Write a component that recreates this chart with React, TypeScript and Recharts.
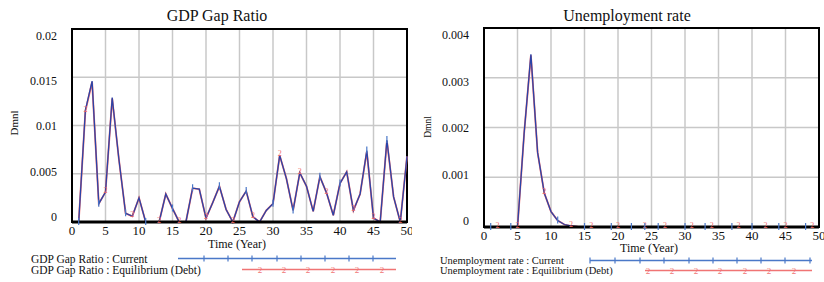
import React from 'react';
import { LineChart, Line, XAxis, YAxis, CartesianGrid, ReferenceArea } from 'recharts';

const years = [
  0, 1, 2, 3, 4, 5, 6, 7, 8, 9, 10, 11, 12, 13, 14, 15, 16, 17, 18, 19, 20, 21, 22, 23, 24, 25,
  26, 27, 28, 29, 30, 31, 32, 33, 34, 35, 36, 37, 38, 39, 40, 41, 42, 43, 44, 45, 46, 47, 48, 49, 50,
];

const gdpCurrent = [
  0, 0, 0.0116, 0.0146, 0.0019, 0.0031, 0.0129, 0.0065, 0.0009, 0.0006, 0.0025, 0, 0, 0, 0.0029,
  0.0014, 0, 0, 0.0035, 0.0034, 0.0004, 0.002, 0.0037, 0.0013, 0, 0.0021, 0.0032, 0.00055, 0,
  0.0012, 0.0019, 0.0069, 0.0045, 0.0012, 0.0051, 0.0037, 0.0011, 0.0047, 0.003, 0.0007, 0.004,
  0.0052, 0.0012, 0.0029, 0.0074, 0.0004, 0, 0.0085, 0.0026, 0, 0.0068,
];
const gdpEquilibrium = [
  0, 0, 0.0115, 0.0145, 0.0019, 0.0031, 0.0128, 0.0065, 0.0009, 0.0006, 0.0025, 0, 0, 0, 0.0029,
  0.0014, 0, 0, 0.0035, 0.0034, 0.0004, 0.002, 0.0037, 0.0013, 0, 0.0021, 0.0032, 0.00055, 0,
  0.0012, 0.0019, 0.0069, 0.0045, 0.0012, 0.0051, 0.0037, 0.0011, 0.0047, 0.003, 0.0007, 0.004,
  0.0052, 0.0012, 0.0029, 0.0073, 0.0004, 0, 0.0084, 0.0026, 0, 0.0068,
];

const unempCurrent = [
  0, 0, 0, 0, 0, 0, 0.0019, 0.00347, 0.0015, 0.00068, 0.00031, 0.00013, 0.00005, 0.00002, 0.000005,
  0, 0, 0, 0, 0, 0, 0, 0, 0, 0, 0, 0, 0, 0, 0, 0, 0, 0, 0, 0, 0, 0, 0, 0, 0, 0, 0, 0, 0, 0, 0, 0, 0,
  0, 0, 0,
];
const unempEquilibrium = [
  0, 0, 0, 0, 0, 0, 0.0019, 0.00345, 0.0015, 0.00068, 0.00031, 0.00013, 0.00005, 0.00002, 0.000005,
  0, 0, 0, 0, 0, 0, 0, 0, 0, 0, 0, 0, 0, 0, 0, 0, 0, 0, 0, 0, 0, 0, 0, 0, 0, 0, 0, 0, 0, 0, 0, 0, 0,
  0, 0, 0,
];

const xTicks = [0, 5, 10, 15, 20, 25, 30, 35, 40, 45, 50];
const gdpTicks = [0, 0.005, 0.01, 0.015, 0.02];
const unempTicks = [0, 0.001, 0.002, 0.003, 0.004];

const gdpCurMarks = [1, 4, 8, 11, 15, 18, 22, 26, 30, 33, 37, 40, 44, 47];
const gdpEqMarks = [2, 5, 9, 13, 16, 20, 24, 27, 31, 34, 38, 42, 45, 49];
const unCurMarks = [1, 4, 11, 15, 19, 22, 24, 26, 30, 33, 37, 40, 44, 48];
const unEqMarks = [2, 5, 9, 13, 16, 20, 24, 27, 31, 34, 38, 42, 45, 49];

const gdpLegend = ['GDP Gap Ratio : Current', 'GDP Gap Ratio : Equilibrium (Debt)'];
const unLegend = ['Unemployment rate : Current', 'Unemployment rate : Equilibrium (Debt)'];

const gdpData = years.map((t, i) => ({ t, cur: gdpCurrent[i], eq: gdpEquilibrium[i] }));
const unData = years.map((t, i) => ({ t, cur: unempCurrent[i], eq: unempEquilibrium[i] }));

const FONT = '"Liberation Serif", "Times New Roman", serif';
const BLUE = '#2a44a8';
const RED = '#f06a6a';
const LBLUE = '#4a78c8';
const LRED = '#f07474';

const YTick = (props: any) => {
  const { x, y, payload } = props;
  const ny = 0.937 * y + 8.8;
  return (
    <text x={x} y={ny} textAnchor="end" dominantBaseline="central" fontSize={12} fontFamily={FONT} fill="#111">
      {String(payload.value)}
    </text>
  );
};

const makeEqDot = (marks: number[]) => (props: any) => {
  const { cx, cy, index } = props;
  if (!marks.includes(index) || cx == null || cy == null) return <g key={`e${index}`} />;
  return (
    <text key={`e${index}`} x={cx} y={cy - 1.5} textAnchor="middle" dominantBaseline="central" fontSize={8} fontFamily={FONT} fill={RED}>
      2
    </text>
  );
};

const makeCurDot = (marks: number[]) => (props: any) => {
  const { cx, cy, index } = props;
  if (!marks.includes(index) || cx == null || cy == null) return <g key={`c${index}`} />;
  return <line key={`c${index}`} x1={cx} x2={cx} y1={cy - 4} y2={cy + 3} stroke={LBLUE} strokeWidth={1.2} />;
};

type PanelProps = {
  data: any[];
  ticks: number[];
  max: number;
  top: number;
  bottom: number;
  curMarks: number[];
  eqMarks: number[];
};

const Panel = ({ data, ticks, max, top, bottom, curMarks, eqMarks }: PanelProps) => (
  <LineChart width={412} height={282} data={data} margin={{ top, right: 5, bottom, left: 0 }}>
    <CartesianGrid stroke="#c8c8c8" strokeWidth={1.5} />
    <XAxis
      type="number"
      dataKey="t"
      domain={[0, 50]}
      ticks={xTicks}
      interval={0}
      height={20}
      tickLine={false}
      tickSize={0}
      tickMargin={4}
      axisLine={{ stroke: '#000', strokeWidth: 3 }}
      tick={{ fontSize: 13, fontFamily: FONT, fill: '#111' }}
    />
    <YAxis
      type="number"
      domain={[0, max]}
      ticks={ticks}
      interval={0}
      width={72}
      tickLine={false}
      tickSize={0}
      tickMargin={15}
      axisLine={{ stroke: '#000', strokeWidth: 2 }}
      tick={<YTick />}
    />
    <ReferenceArea x1={0} x2={50} y1={0} y2={max} fill="none" fillOpacity={0} stroke="#000" strokeWidth={2} />
    <Line
      type="linear"
      dataKey="eq"
      stroke={RED}
      strokeWidth={1.8}
      dot={makeEqDot(eqMarks)}
      activeDot={false}
      isAnimationActive={false}
    />
    <Line
      type="linear"
      dataKey="cur"
      stroke={BLUE}
      strokeWidth={1.3}
      dot={makeCurDot(curMarks)}
      activeDot={false}
      isAnimationActive={false}
    />
  </LineChart>
);

const LegendRow = ({
  x,
  y,
  fs,
  label,
  color,
  lx1,
  lx2,
  marks,
  kind,
}: {
  x: number;
  y: number;
  fs: number;
  label: string;
  color: string;
  lx1: number;
  lx2: number;
  marks: number[];
  kind: 'tick' | 'two';
}) => (
  <g>
    <text x={x} y={y} dominantBaseline="central" fontSize={fs} fontFamily={FONT} fill="#111">
      {label}
    </text>
    <line x1={lx1} x2={lx2} y1={y} y2={y} stroke={color} strokeWidth={1.5} />
    {marks.map((m, i) =>
      kind === 'tick' ? (
        <line key={i} x1={m} x2={m} y1={y - 3} y2={y + 3} stroke={color} strokeWidth={1.2} />
      ) : (
        <text key={i} x={m} y={y + 0.5} textAnchor="middle" dominantBaseline="central" fontSize={9} fontFamily={FONT} fill={color}>
          2
        </text>
      )
    )}
  </g>
);

const gdpLegendBlueTicks = [204, 228, 252, 277, 301, 325, 349, 373];
const gdpLegendRedTwos = [260, 284, 308, 333, 357, 382];
const unLegendBlueTicks = [590, 615, 640, 664, 689, 713, 737, 761, 785, 810];
const unLegendRedTwos = [648, 672, 696, 720, 745, 769, 794];

export default function App() {
  return (
    <div style={{ position: 'absolute', left: 0, top: 0, width: 824, height: 282, background: '#fff', overflow: 'hidden' }}>
      <div style={{ position: 'absolute', left: 0, top: 0 }}>
        <Panel data={gdpData} ticks={gdpTicks} max={0.02} top={29} bottom={40} curMarks={gdpCurMarks} eqMarks={gdpEqMarks} />
      </div>
      <div style={{ position: 'absolute', left: 412, top: 0 }}>
        <Panel data={unData} ticks={unempTicks} max={0.004} top={28} bottom={35} curMarks={unCurMarks} eqMarks={unEqMarks} />
      </div>
      <svg width={824} height={282} style={{ position: 'absolute', left: 0, top: 0, pointerEvents: 'none' }}>
        <text x={217} y={21} textAnchor="middle" fontSize={16} fontFamily={FONT} fill="#111">
          GDP Gap Ratio
        </text>
        <text x={627} y={21} textAnchor="middle" fontSize={16} fontFamily={FONT} fill="#111">
          Unemployment rate
        </text>
        <text x={14} y={123} transform="rotate(-90 14 123)" textAnchor="middle" dominantBaseline="central" fontSize={11} fontFamily={FONT} fill="#111">
          Dmnl
        </text>
        <text x={428} y={127} transform="rotate(-90 428 127)" textAnchor="middle" dominantBaseline="central" fontSize={9.5} fontFamily={FONT} fill="#111">
          Dmnl
        </text>
        <text x={237} y={247.5} textAnchor="middle" fontSize={12} fontFamily={FONT} fill="#111">
          Time (Year)
        </text>
        <text x={649} y={252} textAnchor="middle" fontSize={12} fontFamily={FONT} fill="#111">
          Time (Year)
        </text>
        <LegendRow x={31} y={258.5} fs={11.5} label={gdpLegend[0]} color={LBLUE} lx1={178} lx2={396} marks={gdpLegendBlueTicks} kind="tick" />
        <LegendRow x={31} y={269.5} fs={11.5} label={gdpLegend[1]} color={LRED} lx1={242} lx2={396} marks={gdpLegendRedTwos} kind="two" />
        <LegendRow x={440} y={260.5} fs={10.5} label={unLegend[0]} color={LBLUE} lx1={590} lx2={812} marks={unLegendBlueTicks} kind="tick" />
        <LegendRow x={440} y={270.5} fs={10.5} label={unLegend[1]} color={LRED} lx1={645} lx2={812} marks={unLegendRedTwos} kind="two" />
      </svg>
    </div>
  );
}
